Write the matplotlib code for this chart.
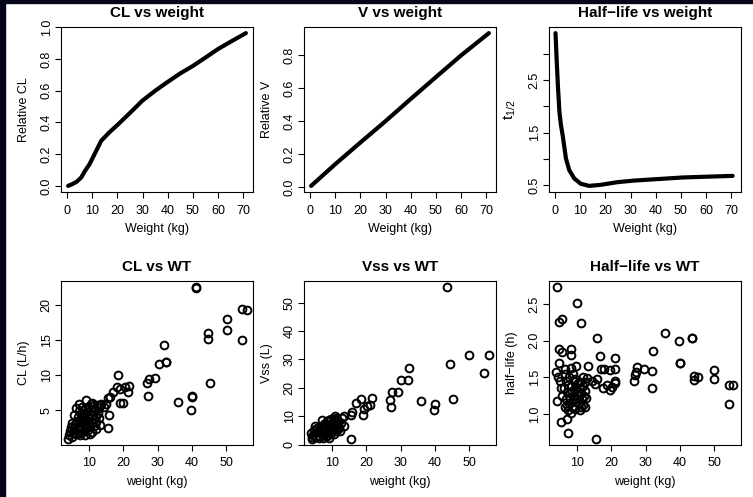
import numpy as np
import matplotlib
matplotlib.use('Agg')
from matplotlib import pyplot as plt
from matplotlib.patches import Rectangle

plt.rcParams['font.family'] = ['Liberation Sans', 'DejaVu Sans']
plt.rcParams['mathtext.fontset'] = 'custom'
plt.rcParams['mathtext.rm'] = 'Liberation Sans'

# top row: relative curves against weight
curve_wt = [0.5, 2, 3.8, 5.7, 7, 9, 11.6, 13.6, 16.8, 20.1, 25, 29.9, 35, 39.7, 45, 50.1, 55, 59.9, 65, 71]
rel_cl = [0.0, 0.01, 0.025, 0.053, 0.09, 0.137, 0.22, 0.284, 0.337, 0.385, 0.46, 0.537, 0.60, 0.653,
          0.71, 0.758, 0.81, 0.863, 0.91, 0.964]
v_wt = [0.5, 10, 20, 30, 40, 50, 60, 71]
rel_v = [0.007, 0.138, 0.27, 0.40, 0.535, 0.668, 0.80, 0.935]
hl_curve_wt = [0.26, 0.7, 1.2, 1.8, 2.4, 3.1, 4.4, 5.7, 7.7, 10.3, 13.6, 18.2, 24.7, 31.2, 37.7,
               44.3, 50.8, 57.3, 63.9, 70.5]
hl_curve = [3.39, 2.9, 2.40, 1.90, 1.65, 1.45, 1.01, 0.79, 0.63, 0.53, 0.49, 0.51, 0.56, 0.59, 0.61,
            0.63, 0.65, 0.66, 0.67, 0.68]

# bottom row: individual subjects
cl_wt = [41.2, 41.2, 54.7, 56.0, 50.3, 50.3, 54.7, 44.6, 44.6, 45.4, 40.0, 40.0, 39.7, 36.1, 32.0, 32.4,
         32.4, 30.3, 29.3, 27.5, 26.9, 27.3, 18.3, 18.1, 17.1, 19.0, 20.5, 21.5, 21.3, 19.8, 19.0, 16.1,
         15.4, 14.9, 15.9, 15.6, 13.2, 14.2,
         4.2, 4.5, 4.8, 5.0, 5.3, 5.5, 5.8, 6.0, 6.2, 6.4, 6.6, 6.8, 7.0, 7.1, 7.3, 7.5, 7.6, 7.8, 8.0,
         8.1, 8.3, 8.5, 8.7, 8.8, 9.0, 9.1, 9.3, 9.5, 9.6, 9.8, 10.0, 10.2, 10.3, 10.5, 10.7, 10.9, 11.0,
         11.2, 11.4, 11.5, 11.7, 11.9, 12.1, 12.3, 12.5, 12.8, 13.0, 13.3, 13.5, 6.9, 7.9, 8.9, 9.9, 10.8,
         5.6, 4.9, 3.9, 12.0, 10.1, 8.4, 7.2]
cl = [22.5, 22.4, 19.4, 19.2, 17.9, 16.4, 15.0, 15.9, 15.1, 8.9, 6.9, 7.0, 5.0, 6.1, 14.2, 11.9,
      11.8, 11.5, 9.6, 9.4, 8.9, 7.0, 10.0, 8.3, 7.6, 8.0, 8.3, 8.4, 7.6, 6.0, 6.0, 6.9,
      6.7, 5.9, 4.3, 2.4, 5.7, 5.5,
      1.5, 2.0, 2.6, 3.1, 1.8, 2.4, 3.0, 1.6, 5.3, 3.5, 2.2, 4.0, 2.8, 5.9, 3.3, 4.6, 1.7, 3.8, 2.5,
      5.0, 3.1, 4.2, 1.4, 3.6, 2.8, 6.5, 4.8, 3.3, 2.1, 5.4, 3.9, 2.6, 4.5, 5.8, 3.2, 1.9, 4.9,
      5.6, 3.7, 2.7, 5.1, 4.1, 3.3, 5.7, 4.6, 3.9, 5.3, 2.9, 5.8, 4.9, 5.4, 4.4, 3.0, 6.0,
      4.3, 1.2, 0.9, 2.3, 1.6, 2.0, 1.4]

vss_wt = [43.7, 50.1, 55.8, 54.5, 44.5, 45.4, 40.2, 39.9, 36.0, 32.4, 32.2, 30.2, 29.2, 27.5, 27.0,
          27.2, 21.6, 21.2, 20.2, 19.3, 19.0, 18.3, 17.0, 15.9, 15.6, 15.6, 13.4, 13.6,
          4.0, 4.5, 5.0, 5.2, 5.5, 6.0, 6.3, 6.6, 7.0, 7.2, 7.5, 7.8, 8.0, 8.3, 8.6, 8.8, 9.0, 9.2,
          9.4, 9.7, 10.0, 10.2, 10.4, 10.6, 10.8, 11.0, 11.2, 11.4, 11.6, 11.8, 12.0, 12.2, 12.5, 3.8,
          4.8, 6.8, 7.7, 8.5, 9.6, 10.9, 6.1, 5.6, 9.9, 8.1, 11.5, 12.8, 7.3, 4.2]
vss = [55.5, 31.6, 31.6, 25.3, 28.4, 16.2, 14.4, 12.2, 15.5, 26.9, 22.6, 22.9, 18.7, 18.7, 15.8,
       13.2, 16.5, 14.0, 13.5, 12.4, 10.6, 15.9, 14.7, 11.6, 10.5, 2.0, 10.2, 6.4,
       2.0, 3.5, 6.5, 2.8, 4.5, 3.2, 5.5, 4.0, 8.8, 2.5, 5.8, 3.6, 6.8, 4.6, 3.0, 5.2, 2.2, 8.5,
       6.0, 4.2, 7.5, 5.5, 3.8, 8.9, 6.5, 4.8, 9.5, 7.2, 5.6, 8.0, 6.2, 4.9, 7.6, 4.0,
       5.0, 6.2, 7.4, 8.2, 9.0, 10.0, 2.4, 6.0, 5.0, 2.9, 8.6, 9.5, 4.4, 2.7]

hl_wt = [4.1, 4.6, 5.7, 10.0, 11.1, 15.7, 4.6, 5.7, 8.3, 8.1, 35.8, 39.7, 43.6, 43.6, 40.0, 40.0,
         32.2, 16.7, 21.1, 16.9, 17.9, 19.6, 21.1, 13.2, 3.9, 4.7, 6.4, 8.3, 9.6, 27.5, 27.3, 29.4,
         31.9, 26.8, 26.5, 31.9, 44.3, 44.3, 45.3, 50.0, 50.0, 54.4, 55.6, 54.4, 5.4, 6.9, 7.4, 15.4,
         17.6, 18.6, 20.1, 21.1, 21.1, 19.6, 14.2, 15.2, 15.7, 13.0, 12.3, 11.8, 10.8, 4.4, 4.9, 4.1,
         5.5, 6.0, 6.3, 6.6, 6.8, 7.0, 7.2, 7.4, 7.6, 7.8, 8.0, 8.2, 8.4, 8.6, 8.8, 9.0, 9.2, 9.4,
         9.6, 9.8, 10.0, 10.2, 10.4, 10.6, 10.8, 11.0, 11.2, 11.4, 11.6, 11.8, 12.0, 12.3, 12.6, 6.4,
         7.5, 8.8, 9.5, 5.2, 6.9, 10.9, 8.3, 12.2]
hl = [2.73, 2.25, 2.30, 2.51, 2.24, 2.03, 1.89, 1.84, 1.88, 1.80, 2.10, 1.99, 2.04, 2.03, 1.69, 1.70,
      1.86, 1.79, 1.76, 1.62, 1.61, 1.60, 1.61, 1.65, 1.57, 1.70, 1.62, 1.63, 1.65, 1.64, 1.57, 1.62,
      1.59, 1.53, 1.45, 1.36, 1.52, 1.46, 1.50, 1.60, 1.48, 1.40, 1.40, 1.14, 0.89, 0.93, 0.74, 0.66,
      1.36, 1.40, 1.37, 1.42, 1.45, 1.33, 1.45, 1.41, 1.48, 1.49, 1.43, 1.50, 1.43, 1.51, 1.45, 1.18,
      1.25, 1.35, 1.10, 1.45, 1.20, 1.30, 1.05, 1.40, 1.15, 1.28, 1.22, 1.38, 1.10, 1.32, 1.18, 1.45,
      1.25, 1.07, 1.35, 1.20, 1.30, 1.42, 1.15, 1.25, 1.35, 1.10, 1.28, 1.20, 1.38, 1.12, 1.25, 1.32,
      1.22, 1.55, 1.50, 1.55, 1.48, 1.35, 1.12, 1.05, 1.02, 1.10]


def r_lim(v):
    lo, hi = min(v), max(v)
    pad = 0.04 * (hi - lo)
    return lo - pad, hi + pad


def style(ax, title, xlab, ylab, ylab_size=9):
    ax.set_title(title, fontsize=11, fontweight='bold', pad=7.5)
    ax.set_xlabel(xlab, fontsize=9, labelpad=5)
    ax.set_ylabel(ylab, fontsize=ylab_size, labelpad=8)
    ax.tick_params(direction='out', length=4, width=0.8, labelsize=9)
    ax.tick_params(axis='x', pad=5)
    ax.tick_params(axis='y', pad=2, labelrotation=90)
    for lab in ax.get_yticklabels():
        lab.set_va('center')
    for s in ax.spines.values():
        s.set_linewidth(0.8)


fig = plt.figure(figsize=(7.53, 4.97), dpi=100)
fig.patches.append(Rectangle((0, 0), 5 / 753, 1, transform=fig.transFigure, color='#05051a', zorder=10))
fig.patches.append(Rectangle((0, 1 - 3 / 497), 1, 3 / 497, transform=fig.transFigure, color='#05051a', zorder=10))

lefts = [61 / 753, 304 / 753, 549 / 753]
w = 192 / 753
top_b, top_h = 1 - 192 / 497, 165 / 497
bot_b, bot_h = 1 - 445 / 497, 164 / 497

# top row
ax = fig.add_axes([lefts[0], top_b, w, top_h])
ax.plot(curve_wt, rel_cl, color='black', lw=3, solid_capstyle='round')
ax.set_xlim(r_lim(curve_wt))
ax.set_ylim(r_lim(rel_cl))
ax.set_xticks(range(0, 71, 10))
ax.set_yticks([0, 0.2, 0.4, 0.6, 0.8, 1.0])
ax.set_yticklabels(['0.0', '0.2', '0.4', '0.6', '0.8', '1.0'])
style(ax, 'CL vs weight', 'Weight (kg)', 'Relative CL')

ax = fig.add_axes([lefts[1], top_b, w, top_h])
ax.plot(v_wt, rel_v, color='black', lw=3, solid_capstyle='round')
ax.set_xlim(r_lim(v_wt))
ax.set_ylim(r_lim(rel_v))
ax.set_xticks(range(0, 71, 10))
ax.set_yticks([0, 0.2, 0.4, 0.6, 0.8])
ax.set_yticklabels(['0.0', '0.2', '0.4', '0.6', '0.8'])
style(ax, 'V vs weight', 'Weight (kg)', 'Relative V')

ax = fig.add_axes([lefts[2], top_b, w, top_h])
ax.plot(hl_curve_wt, hl_curve, color='black', lw=3, solid_capstyle='round')
ax.set_xlim(r_lim(curve_wt))
ax.set_ylim(r_lim(hl_curve))
ax.set_xticks(range(0, 71, 10))
ax.set_yticks([0.5, 1.0, 1.5, 2.0, 2.5, 3.0])
ax.set_yticklabels(['0.5', '', '1.5', '', '2.5', ''])
style(ax, 'Half\u2212life vs weight', 'Weight (kg)', r'$\mathrm{t}_{1/2}$', ylab_size=11)

# bottom row
pts = dict(ls='none', marker='o', mfc='none', mec='black', ms=5.6, mew=1.4)

ax = fig.add_axes([lefts[0], bot_b, w, bot_h])
ax.plot(cl_wt, cl, **pts)
ax.set_xlim(1.76, 57.9)
ax.set_ylim(r_lim(cl))
ax.set_xticks([10, 20, 30, 40, 50])
ax.set_yticks([5, 10, 15, 20])
style(ax, 'CL vs WT', 'weight (kg)', 'CL (L/h)')

ax = fig.add_axes([lefts[1], bot_b, w, bot_h])
ax.plot(vss_wt, vss, **pts)
ax.set_xlim(1.76, 57.9)
ax.set_ylim(r_lim(vss))
ax.set_xticks([10, 20, 30, 40, 50])
ax.set_yticks([0, 10, 20, 30, 40, 50])
style(ax, 'Vss vs WT', 'weight (kg)', 'Vss (L)')

ax = fig.add_axes([lefts[2], bot_b, w, bot_h])
ax.plot(hl_wt, hl, **pts)
ax.set_xlim(1.76, 57.9)
ax.set_ylim(r_lim(hl))
ax.set_xticks([10, 20, 30, 40, 50])
ax.set_yticks([1.0, 1.5, 2.0, 2.5])
style(ax, 'Half\u2212life vs WT', 'weight (kg)', 'half\u2212life (h)')

fig.savefig('out.png', dpi=100)
